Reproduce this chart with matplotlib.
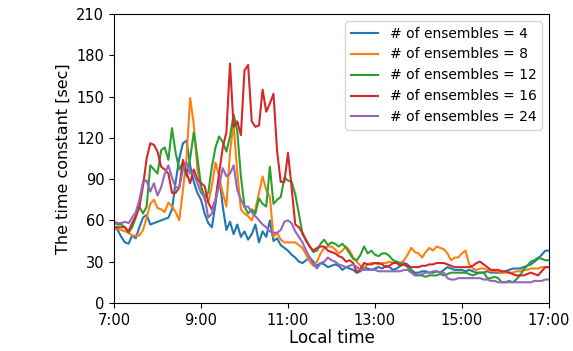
import numpy as np
import matplotlib
matplotlib.use("Agg")
import matplotlib.pyplot as plt
from matplotlib.ticker import FuncFormatter

# 5-minute samples from 7:00 to 17:00 (121 points)
ens4 = [55, 53, 48, 44, 43, 49, 47, 55, 62, 64, 57, 58,
        59, 60, 61, 62, 68, 88, 105, 116, 118, 100, 88, 80,
        75, 65, 58, 55, 72, 93, 70, 53, 59, 50, 57, 48,
        52, 46, 50, 57, 44, 52, 48, 60, 45, 47, 42, 40,
        38, 35, 33, 30, 29, 31, 33, 30, 27, 29, 28, 26,
        27, 28, 27, 24, 26, 25, 24, 22, 23, 26, 25, 24,
        25, 26, 25, 27, 26, 24, 25, 27, 29, 28, 24, 22,
        22, 23, 23, 22, 22, 23, 22, 24, 26, 25, 24, 24,
        24, 23, 24, 23, 22, 22, 22, 23, 22, 22, 22, 22,
        23, 24, 25, 25, 25, 26, 27, 28, 30, 32, 35, 38,
        38]
ens8 = [55, 54, 53, 52, 51, 49, 49, 49, 53, 62, 72, 75,
        69, 68, 66, 73, 70, 66, 60, 82, 105, 149, 130, 97,
        84, 75, 73, 85, 102, 92, 80, 70, 110, 130, 95, 68,
        65, 63, 60, 68, 80, 92, 82, 77, 48, 51, 46, 44,
        44, 44, 44, 42, 40, 35, 30, 27, 30, 36, 40, 41,
        41, 39, 36, 38, 41, 38, 33, 30, 27, 26, 28, 29,
        29, 28, 29, 29, 30, 29, 29, 29, 31, 35, 40, 37,
        36, 33, 37, 40, 38, 41, 40, 39, 36, 31, 33, 33,
        36, 38, 28, 25, 24, 25, 25, 24, 23, 23, 23, 22,
        22, 22, 22, 23, 23, 24, 24, 25, 25, 25, 26, 26,
        26]
ens12 = [58, 57, 57, 55, 51, 55, 62, 70, 65, 70, 100, 97,
         94, 111, 113, 104, 127, 109, 97, 102, 92, 105, 124, 106,
         85, 77, 80, 99, 113, 121, 117, 110, 121, 137, 125, 92,
         70, 65, 68, 65, 76, 72, 70, 99, 72, 75, 77, 91,
         89, 88, 79, 65, 50, 46, 41, 37, 38, 43, 46, 42,
         44, 43, 41, 43, 40, 36, 32, 31, 35, 41, 36, 38,
         35, 34, 36, 36, 34, 31, 30, 29, 28, 26, 23, 21,
         20, 20, 19, 20, 20, 20, 21, 20, 21, 22, 22, 22,
         22, 22, 21, 20, 21, 22, 22, 18, 18, 19, 18, 15,
         15, 16, 15, 17, 20, 24, 27, 30, 31, 33, 32, 31,
         31]
ens16 = [55, 55, 55, 55, 52, 58, 63, 70, 85, 105, 116, 115,
         110, 99, 97, 94, 80, 80, 84, 104, 95, 87, 97, 90,
         87, 85, 73, 68, 75, 94, 113, 124, 174, 128, 132, 122,
         169, 173, 132, 128, 129, 155, 139, 145, 152, 110, 88, 88,
         109, 84, 57, 55, 51, 45, 41, 38, 40, 41, 41, 38,
         37, 36, 34, 33, 30, 31, 29, 22, 25, 29, 28, 28,
         29, 29, 28, 26, 27, 29, 29, 27, 28, 27, 26, 26,
         26, 27, 27, 28, 28, 29, 29, 29, 28, 27, 26, 26,
         26, 26, 26, 27, 29, 30, 28, 26, 24, 24, 24, 23,
         23, 22, 21, 20, 20, 20, 21, 22, 21, 20, 23, 26,
         26]
ens24 = [59, 58, 58, 59, 58, 62, 66, 75, 88, 89, 81, 87,
         78, 84, 94, 100, 91, 84, 84, 97, 102, 94, 94, 87,
         80, 77, 62, 65, 75, 85, 98, 92, 94, 100, 82, 75,
         70, 70, 66, 63, 60, 57, 55, 52, 51, 51, 53, 59,
         60, 58, 52, 48, 44, 38, 33, 28, 25, 29, 30, 33,
         31, 30, 28, 27, 26, 27, 28, 26, 24, 24, 24, 24,
         24, 23, 23, 23, 23, 23, 23, 23, 24, 24, 22, 20,
         20, 21, 22, 22, 23, 23, 22, 22, 18, 17, 17, 18,
         18, 18, 18, 18, 18, 18, 17, 17, 16, 16, 15, 15,
         15, 15, 15, 15, 15, 15, 15, 15, 16, 16, 16, 17,
         17]

series = [(ens4, "# of ensembles = 4"), (ens8, "# of ensembles = 8"),
          (ens12, "# of ensembles = 12"), (ens16, "# of ensembles = 16"),
          (ens24, "# of ensembles = 24")]
colors = ["#1f77b4", "#ff7f0e", "#2ca02c", "#d62728", "#9467bd"]

hours = 7 + np.arange(121) / 12.0
xticks = [7, 9, 11, 13, 15, 17]
yticks = [0, 30, 60, 90, 120, 150, 180, 210]

fig = plt.figure(figsize=(5.73, 3.51), dpi=100)
ax = fig.add_axes([0.199, 0.137, 0.759, 0.823])
for (vals, lab), c in zip(series, colors):
    ax.plot(hours, vals, color=c, lw=1.5, label=lab)

ax.set_xlim(7, 17)
ax.set_ylim(0, 210)
ax.set_xticks(xticks)
ax.set_xticklabels([f"{h}:00" for h in xticks])
ax.set_yticks(yticks)
ax.tick_params(labelsize=10.5)
ax.set_xlabel("Local time", fontsize=12, labelpad=1)
ax.set_ylabel("The time constant [sec]", fontsize=11.5)
ax.legend(loc="upper right", fontsize=10)

fig.savefig("out.png", dpi=100)
